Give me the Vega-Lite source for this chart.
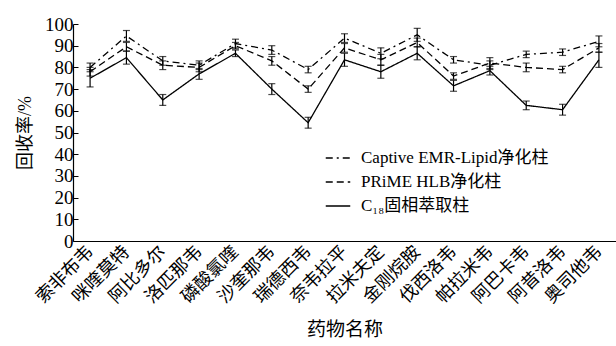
{
  "$schema": "https://vega.github.io/schema/vega-lite/v6.json",
  "autosize": {"type": "none"},
  "padding": {"left": 73, "top": 24, "right": 0, "bottom": 105},
  "width": 543,
  "height": 217,
  "background": "white",
  "config": {
    "view": {"stroke": null},
    "font": "Liberation Serif, Noto Sans CJK SC",
    "axis": {"labelFont": "Liberation Serif, Noto Sans CJK SC", "titleFont": "Liberation Serif, Noto Sans CJK SC", "labelColor": "black", "titleColor": "black", "domainColor": "black", "tickColor": "black", "grid": false, "titleFontWeight": "normal"},
    "legend": {"labelFont": "Liberation Serif, Noto Sans CJK SC"}
  },
  "data": {"values": [
    {"drug": "索非布韦", "series": "Captive EMR-Lipid净化柱", "value": 80, "err": 2},
    {"drug": "咪喹莫特", "series": "Captive EMR-Lipid净化柱", "value": 94.5, "err": 2.5},
    {"drug": "阿比多尔", "series": "Captive EMR-Lipid净化柱", "value": 83, "err": 2},
    {"drug": "洛匹那韦", "series": "Captive EMR-Lipid净化柱", "value": 81, "err": 2},
    {"drug": "磷酸氯喹", "series": "Captive EMR-Lipid净化柱", "value": 91, "err": 2},
    {"drug": "沙奎那韦", "series": "Captive EMR-Lipid净化柱", "value": 88, "err": 2},
    {"drug": "瑞德西韦", "series": "Captive EMR-Lipid净化柱", "value": 79, "err": 1.5},
    {"drug": "奈韦拉平", "series": "Captive EMR-Lipid净化柱", "value": 93.5, "err": 2},
    {"drug": "拉米夫定", "series": "Captive EMR-Lipid净化柱", "value": 86.5, "err": 2.5},
    {"drug": "金刚烷胺", "series": "Captive EMR-Lipid净化柱", "value": 95, "err": 3},
    {"drug": "伐西洛韦", "series": "Captive EMR-Lipid净化柱", "value": 83.5, "err": 1.5},
    {"drug": "帕拉米韦", "series": "Captive EMR-Lipid净化柱", "value": 81, "err": 2},
    {"drug": "阿巴卡韦", "series": "Captive EMR-Lipid净化柱", "value": 86, "err": 1.5},
    {"drug": "阿昔洛韦", "series": "Captive EMR-Lipid净化柱", "value": 87, "err": 1.5},
    {"drug": "奥司他韦", "series": "Captive EMR-Lipid净化柱", "value": 92, "err": 2.5},
    {"drug": "索非布韦", "series": "PRiME HLB净化柱", "value": 78, "err": 2},
    {"drug": "咪喹莫特", "series": "PRiME HLB净化柱", "value": 89.5, "err": 2},
    {"drug": "阿比多尔", "series": "PRiME HLB净化柱", "value": 81, "err": 2},
    {"drug": "洛匹那韦", "series": "PRiME HLB净化柱", "value": 80, "err": 2},
    {"drug": "磷酸氯喹", "series": "PRiME HLB净化柱", "value": 90, "err": 1.5},
    {"drug": "沙奎那韦", "series": "PRiME HLB净化柱", "value": 83, "err": 2},
    {"drug": "瑞德西韦", "series": "PRiME HLB净化柱", "value": 70, "err": 1.5},
    {"drug": "奈韦拉平", "series": "PRiME HLB净化柱", "value": 89, "err": 2},
    {"drug": "拉米夫定", "series": "PRiME HLB净化柱", "value": 83.5, "err": 2.5},
    {"drug": "金刚烷胺", "series": "PRiME HLB净化柱", "value": 91.5, "err": 2},
    {"drug": "伐西洛韦", "series": "PRiME HLB净化柱", "value": 76, "err": 1.5},
    {"drug": "帕拉米韦", "series": "PRiME HLB净化柱", "value": 82, "err": 2.5},
    {"drug": "阿巴卡韦", "series": "PRiME HLB净化柱", "value": 80, "err": 2},
    {"drug": "阿昔洛韦", "series": "PRiME HLB净化柱", "value": 79, "err": 1.5},
    {"drug": "奥司他韦", "series": "PRiME HLB净化柱", "value": 89, "err": 2},
    {"drug": "索非布韦", "series": "C₁₈固相萃取柱", "value": 75, "err": 4},
    {"drug": "咪喹莫特", "series": "C₁₈固相萃取柱", "value": 84.5, "err": 3},
    {"drug": "阿比多尔", "series": "C₁₈固相萃取柱", "value": 65, "err": 2.5},
    {"drug": "洛匹那韦", "series": "C₁₈固相萃取柱", "value": 77, "err": 2.5},
    {"drug": "磷酸氯喹", "series": "C₁₈固相萃取柱", "value": 86.5, "err": 1.5},
    {"drug": "沙奎那韦", "series": "C₁₈固相萃取柱", "value": 70, "err": 2.5},
    {"drug": "瑞德西韦", "series": "C₁₈固相萃取柱", "value": 54.5, "err": 2.5},
    {"drug": "奈韦拉平", "series": "C₁₈固相萃取柱", "value": 83.5, "err": 3},
    {"drug": "拉米夫定", "series": "C₁₈固相萃取柱", "value": 78, "err": 3},
    {"drug": "金刚烷胺", "series": "C₁₈固相萃取柱", "value": 86.5, "err": 3},
    {"drug": "伐西洛韦", "series": "C₁₈固相萃取柱", "value": 71.5, "err": 2.5},
    {"drug": "帕拉米韦", "series": "C₁₈固相萃取柱", "value": 78.5, "err": 2},
    {"drug": "阿巴卡韦", "series": "C₁₈固相萃取柱", "value": 62.5, "err": 2},
    {"drug": "阿昔洛韦", "series": "C₁₈固相萃取柱", "value": 60.5, "err": 2.5},
    {"drug": "奥司他韦", "series": "C₁₈固相萃取柱", "value": 83.5, "err": 3.5}
  ]},
  "encoding": {
    "x": {
      "field": "drug", "type": "nominal", "sort": null,
      "scale": {"type": "point", "padding": 0.47},
      "axis": {"title": "药物名称", "titleFontSize": 19, "titlePadding": 14, "labelAngle": -45, "labelAlign": "right", "labelBaseline": "middle", "labelFontSize": 18, "labelPadding": 8, "ticks": false, "domainWidth": 1.2}
    },
    "y": {
      "field": "value", "type": "quantitative",
      "scale": {"domain": [0, 100], "nice": false},
      "axis": {"title": "回收率/%", "titleFontSize": 18, "titlePadding": 10, "labelFontSize": 19, "values": [0,10,20,30,40,50,60,70,80,90,100], "tickSize": -5, "labelPadding": 5, "domainWidth": 1.2, "labelFlush": false}
    }
  },
  "layer": [
    {
      "mark": {"type": "line", "color": "black", "strokeWidth": 1.3},
      "encoding": {
        "strokeDash": {
          "field": "series", "type": "nominal",
          "scale": {"domain": ["Captive EMR-Lipid净化柱", "PRiME HLB净化柱", "C₁₈固相萃取柱"], "range": [[7, 4, 2, 4], [7, 4], [1, 0]]},
          "legend": {"title": null, "orient": "none", "legendX": 252, "legendY": 121, "symbolType": "stroke", "symbolSize": 600, "symbolStrokeWidth": 1.3, "symbolStrokeColor": "black", "labelFontSize": 17, "labelColor": "black", "labelLimit": 400, "rowPadding": 3, "labelOffset": 10}
        }
      }
    },
    {
      "mark": {"type": "errorbar", "ticks": {"size": 7, "color": "black"}, "color": "black", "thickness": 1.2},
      "encoding": {
        "yError": {"field": "err"},
        "detail": {"field": "series"}
      }
    }
  ]
}
